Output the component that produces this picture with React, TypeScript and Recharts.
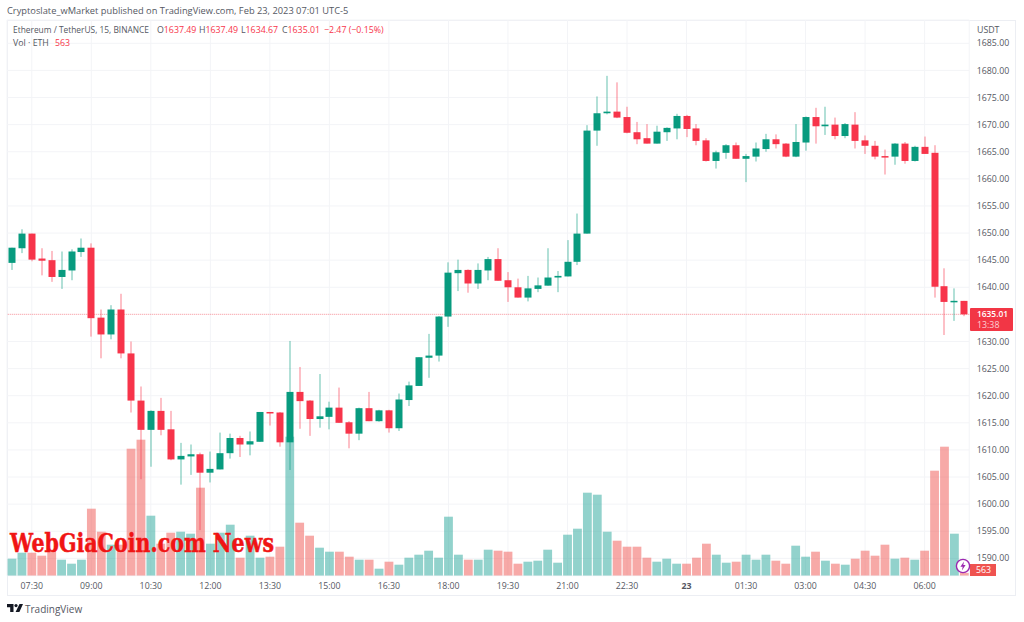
import React from "react";
import { ComposedChart, Bar, XAxis, YAxis, CartesianGrid, ReferenceLine } from "recharts";

const opens = [1644.5,1647.2,1649.9,1645.3,1645,1641.9,1643.1,1646.5,1647.3,1634.4,1631.3,1635.9,1627.8,1619.1,1613.7,1617.2,1613.8,1608.25,1608.8,1609.2,1605.8,1606.4,1609.4,1612.2,1611,1611.5,1617,1616.9,1611.4,1620.7,1619.1,1615.7,1616.1,1617.8,1615.1,1613,1617.7,1615.3,1617.3,1614,1619.2,1621.8,1627,1627.4,1634.6,1642.6,1643.2,1640.7,1643.1,1645.2,1641.3,1640,1638.1,1639.7,1640.3,1641.8,1642,1644.7,1649.9,1668.9,1672.1,1672.4,1671.4,1668.6,1667.5,1666.5,1668.6,1669.3,1671.6,1669.3,1667.1,1663.3,1664.8,1666.2,1663.7,1664.1,1665.5,1667.3,1666.5,1664.1,1666.7,1671.4,1669.7,1670,1667.9,1670,1667.1,1666.1,1664.2,1664.1,1666.5,1663.3,1665.9,1664.8,1640.2,1637.3,1637.49];
const highs = [1647.3,1650.7,1649.9,1647.2,1646.7,1646.6,1647,1649,1648.1,1635.9,1636.7,1638.8,1630,1621.7,1617.3,1619.6,1617.2,1611.3,1611,1609.5,1609.7,1613.2,1613,1612.6,1613.4,1617,1617,1617,1630.1,1625.3,1619.2,1624,1618.9,1621.5,1615.3,1617.8,1620.7,1617.4,1617.4,1620.4,1622.6,1627.1,1631.4,1634.7,1644.6,1645.1,1643.3,1644.4,1645.6,1647.2,1642.8,1641.6,1642.1,1641.8,1647.2,1643,1648.7,1653.6,1669.9,1675.2,1679,1677.8,1673.3,1670.5,1670.1,1669.8,1669.5,1672,1671.8,1670.1,1667.5,1665.2,1666.4,1666.7,1664.6,1666.7,1668.3,1668.2,1666.6,1670.1,1671.5,1673.1,1673.3,1671.3,1670.3,1672.3,1668,1667,1665.4,1666.6,1666.8,1666.1,1667.8,1666.2,1643.5,1639.8,1637.49];
const lows = [1643.2,1646.3,1644.8,1642.2,1641,1639.7,1641.3,1645.6,1630.9,1626.9,1630.4,1626.9,1616.9,1604.6,1606.9,1612.7,1608.1,1603.6,1605.4,1595.2,1604,1606.4,1608.4,1608.7,1609,1611.5,1614.5,1610.6,1606.3,1613.9,1612.6,1614.1,1613.8,1615,1610.3,1611.8,1615.3,1615.2,1613.2,1613.5,1618.1,1621.8,1623.3,1626.3,1632.7,1639.3,1639,1639.7,1641.3,1641.2,1637.3,1638.1,1637.4,1639.1,1640.3,1639.1,1642,1644.1,1649.9,1666.1,1671.9,1671.2,1668.4,1666.4,1666.5,1666.5,1667,1667.3,1667.7,1666.2,1663.2,1661.9,1663.7,1663.7,1659.4,1663.2,1665,1665.6,1664,1664,1665.2,1666.5,1668.1,1667.3,1667.5,1665.6,1664.6,1663.6,1660.8,1662.6,1662.8,1663.2,1664.6,1638.1,1631.2,1633.8,1634.67];
const closes = [1647.3,1649.9,1645.1,1644.9,1641.9,1643.2,1646.6,1647.3,1634.3,1631.3,1635.9,1627.8,1619.1,1613.7,1617.2,1613.7,1608.25,1608.9,1609.2,1605.8,1606.5,1609.4,1612.2,1611,1611.6,1617,1616.8,1611.4,1620.7,1619,1615.7,1616.2,1617.8,1615,1613,1617.7,1615.3,1617.3,1614,1619.3,1621.9,1627.1,1627.4,1634.6,1642.7,1643.2,1640.7,1643.2,1645.2,1641.2,1640,1638.1,1639.8,1640.35,1641.8,1642.1,1644.7,1649.9,1668.9,1672.1,1672.4,1671.3,1668.5,1667.3,1666.5,1668.7,1669.4,1671.6,1669.2,1667,1663.3,1664.9,1666.2,1663.7,1664.2,1665.6,1667.3,1666.4,1664.1,1666.8,1671.4,1669.7,1670,1667.9,1670.1,1667,1666.1,1664.1,1664.1,1666.5,1663.3,1665.9,1664.6,1640.1,1637.3,1637.5,1635.01];
const volumes = [3400,4600,4600,4000,5200,3200,2400,3200,13400,8800,6200,6200,25400,27200,12000,6400,8600,8800,8400,17600,6400,8600,10200,3600,8000,3600,3800,5800,27800,10600,8000,5600,4800,4800,3800,3200,3200,1400,2800,2200,3600,4200,5000,3600,11800,4200,3200,3200,5200,5000,4800,2400,2800,3000,5200,2600,8200,9400,16600,16200,8800,7000,5800,5800,3600,2800,3400,2400,2400,3600,6400,4200,2600,2800,4200,3200,4200,3000,2400,6000,3800,4800,3000,2400,2200,3400,5000,4000,6200,3400,3600,3200,5000,21000,25800,8400,563];
const xTickIndexes = [2,8,14,20,26,32,38,44,50,56,62,68,74,80,86,92];
const xTickLabels = ["07:30","09:00","10:30","12:00","13:30","15:00","16:30","18:00","19:30","21:00","22:30","23","01:30","03:00","04:30","06:00"];
const priceTicks = [1590,1595,1600,1605,1610,1615,1620,1625,1630,1640,1645,1650,1655,1660,1665,1670,1675,1680,1685];
const lastPrice = 1635.01;

const rows = opens.map((o, i) => ({ idx: i, o, h: highs[i], l: lows[i], c: closes[i], v: volumes[i] }));

const W = 1024, H = 622;
const RED = "#f7344a", GREEN = "#089b7f";
const FONT = '"Open Sans", "Noto Sans", sans-serif';
const TEXT = "#555863";
const priceDomain = [1586.8, 1689.3];
const volDomain = [0, 111140];
const margin = { top: 20, left: 7, right: 0, bottom: 0 };
const marginTop = { top: 20, left: 7, right: 54.76, bottom: 46.3 };

function Candle(props: any) {
  const { x, y, width, height, payload: p } = props;
  const up = p.c >= p.o;
  const col = up ? GREEN : RED;
  const k = height / (p.h - p.l);
  const cx = Math.round(x + width / 2) ;
  const top = y + (p.h - Math.max(p.o, p.c)) * k;
  const bot = y + (p.h - Math.min(p.o, p.c)) * k;
  return (
    <g>
      <rect x={cx - 0.5} y={y} width={1} height={height} fill={col} fillOpacity={0.62} />
      <rect x={cx - 3.5} y={top} width={7} height={Math.max(bot - top, 1.5)} fill={col} />
    </g>
  );
}

function VolBar(props: any) {
  const { x, y, width, height, payload: p } = props;
  const col = p.c >= p.o ? "rgba(38,166,154,0.5)" : "rgba(239,83,80,0.5)";
  const cx = x + width / 2;
  return <rect x={cx - 4.4} y={y} width={8.8} height={height} fill={col} />;
}

function XTick(props: any) {
  const { x, payload } = props;
  const label = xTickLabels[xTickIndexes.indexOf(payload.value)];
  const bold = label === "23";
  return (
    <text x={x} y={586} textAnchor="middle" dominantBaseline="central" fontFamily={FONT} fontSize={8.8} fontWeight={bold ? 700 : 400} fill={TEXT}>
      {label}
    </text>
  );
}

const abs = (left: number, top: number, extra: any = {}) => ({
  position: "absolute" as const, left, top, whiteSpace: "nowrap" as const, fontFamily: FONT, fontSize: 8.8, lineHeight: "10px", color: TEXT, ...extra,
});

export default function App() {
  return (
    <div style={{ position: "fixed", left: 0, top: 0, width: W, height: H, background: "#fff", overflow: "hidden" }}>
      <div style={{ position: "absolute", left: 7, top: 19.5, width: 1009, height: 576, border: "1px solid #eceef3", boxSizing: "border-box" }} />
      <div style={{ position: "absolute", left: 0, top: 0 }}>
        <ComposedChart width={W} height={H} data={rows} margin={margin} barCategoryGap={0}>
          <CartesianGrid stroke="#f3f4f7" strokeWidth={1} />
          <XAxis dataKey="idx" type="category" ticks={xTickIndexes} interval={0} height={46.3} axisLine={false} tickLine={false} tick={<XTick />} />
          <YAxis orientation="right" width={54.76} domain={priceDomain} ticks={priceTicks} interval={0} type="number" allowDataOverflow axisLine={false} tickLine={false} tickSize={0} tickMargin={7.5} tick={{ fontFamily: FONT, fontSize: 8.8, fill: TEXT, textAnchor: "start" }} tickFormatter={(v: number) => v.toFixed(2)} />
          <YAxis yAxisId="vol" hide domain={volDomain} type="number" allowDataOverflow />
          <ReferenceLine y={lastPrice} stroke="#f23645" strokeOpacity={0.55} strokeDasharray="1 1" />
          <Bar yAxisId="vol" dataKey="v" isAnimationActive={false} shape={<VolBar />} />
        </ComposedChart>
      </div>
      <div style={{ position: "absolute", left: 0, top: 0 }}>
        <ComposedChart width={W} height={H} data={rows} margin={marginTop} barCategoryGap={0} style={{ background: "transparent" }}>
          <XAxis dataKey="idx" type="category" hide />
          <YAxis hide domain={priceDomain} type="number" allowDataOverflow />
          <Bar dataKey={(r: any) => [r.l, r.h]} isAnimationActive={false} shape={<Candle />} />
        </ComposedChart>
      </div>

      <div style={abs(7, 6, { fontSize: 9.3 })}>Cryptoslate_wMarket published on TradingView.com, Feb 23, 2023 07:01 UTC-5</div>
      <div style={abs(13, 25, { fontSize: 8.4 })}>Ethereum / TetherUS, 15, BINANCE</div>
      <div style={abs(157, 25)}>O<span style={{ color: RED }}>1637.49</span></div>
      <div style={abs(199, 25)}>H<span style={{ color: RED }}>1637.49</span></div>
      <div style={abs(241, 25)}>L<span style={{ color: RED }}>1634.67</span></div>
      <div style={abs(282, 25)}>C<span style={{ color: RED }}>1635.01</span></div>
      <div style={abs(324, 25, { color: RED })}>−2.47 (−0.15%)</div>
      <div style={abs(13, 38)}>Vol · ETH</div>
      <div style={abs(55, 38, { color: RED })}>563</div>
      <div style={abs(977, 25)}>USDT</div>

      <div style={{ position: "absolute", left: 970, top: 308, width: 43, height: 23, background: "#f23645", borderRadius: 1 }} />
      <div style={abs(977, 309, { color: "#fff", fontWeight: 600, fontSize: 8.4 })}>1635.01</div>
      <div style={abs(977, 319.5, { color: "#fbd0d4" })}>13:38</div>

      <div style={{ position: "absolute", left: 970, top: 564, width: 25.5, height: 12, background: "#ef5350" }} />
      <div style={abs(976, 565, { color: "#fff" })}>563</div>
      <svg style={{ position: "absolute", left: 955, top: 558 }} width={16} height={16}>
        <circle cx={8} cy={8} r={6.6} fill="#fff" stroke="#9c27b0" strokeWidth={1.4} />
        <path d="M9 3.6 L5.4 8.8 H7.7 L6.9 12.4 L10.6 7 H8.3 Z" fill="#9c27b0" />
      </svg>

      <svg style={{ position: "absolute", left: 0, top: 525 }} width={420} height={34}>
        <text x={10} y={26.7} fontFamily='"DejaVu Serif", serif' fontSize={26} fontWeight={700} fill="#f01414" stroke="#f01414" strokeWidth={0.5} textLength={264} lengthAdjust="spacingAndGlyphs">WebGiaCoin.com News</text>
      </svg>

      <svg style={{ position: "absolute", left: 7, top: 604 }} width={16} height={9}>
        <path d="M0 0 H6.5 V8 H3.2 V3.2 H0 Z M12.5 0 H16 L12.4 8 H8.6 Z" fill="#131722" />
        <circle cx={9} cy={1.6} r={1.6} fill="#131722" />
      </svg>
      <div style={abs(25, 604, { fontSize: 10 })}>TradingView</div>
    </div>
  );
}
